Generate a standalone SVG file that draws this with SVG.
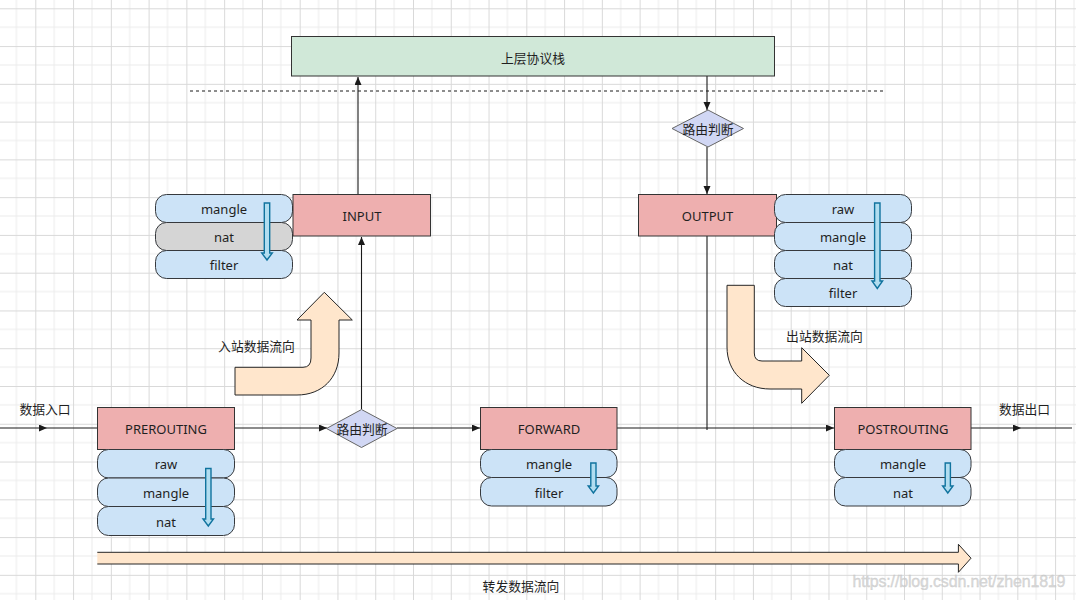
<svg xmlns="http://www.w3.org/2000/svg" width="1076" height="600" viewBox="0 0 1076 600">
<defs>
<pattern id="grid" patternUnits="userSpaceOnUse" x="35.3" y="8.3" width="37.77" height="37.77">
<path d="M18.885 0V37.77M0 18.885H37.77" stroke="#ececec" stroke-width="1" fill="none"/>
<path d="M0.5 0V37.77M0 0.5H37.77" stroke="#d9d9d9" stroke-width="1" fill="none"/>
</pattern>
<marker id="ah" markerUnits="userSpaceOnUse" markerWidth="9" markerHeight="8" refX="8" refY="3.5" orient="auto">
<path d="M0 0L8 3.5L0 7Z" fill="#1a1a1a"/>
</marker>
<style>
text{font-family:"Noto Sans","Noto Sans CJK SC",sans-serif;font-size:13px;fill:#1f1f1f;text-anchor:middle;dominant-baseline:central}
.cjk{font-family:"Noto Sans CJK SC","Noto Sans",sans-serif;font-size:12.8px}
.hook{fill:#eeafaf;stroke:#333;stroke-width:1}
.row{fill:#cce3f7;stroke:#36393d;stroke-width:1}
.rowg{fill:#d5d5d5;stroke:#36393d;stroke-width:1}
.dia{fill:#d1d7f4;stroke:#666;stroke-width:1}
.flow{fill:#ffe6cc;stroke:#262626;stroke-width:1}
.bar{fill:#b1ddf0;stroke:#10739e;stroke-width:1.4}
.conn{stroke:#1a1a1a;stroke-width:1.1;fill:none}
</style>
</defs>
<rect width="1076" height="600" fill="#fff"/>
<rect width="1076" height="600" fill="url(#grid)"/>

<g id="connectors">
<path class="conn" d="M0 428H47" marker-end="url(#ah)"/>
<path class="conn" d="M47 428H97"/>
<path class="conn" d="M234 428H327" marker-end="url(#ah)"/>
<path class="conn" d="M361.5 409V237" marker-end="url(#ah)"/>
<path class="conn" d="M358 194V77" marker-end="url(#ah)"/>
<path class="conn" d="M707 76V110" marker-end="url(#ah)"/>
<path class="conn" d="M707 147V194" marker-end="url(#ah)"/>
<path class="conn" d="M707 236V430"/>
<path class="conn" d="M397 428H480" marker-end="url(#ah)"/>
<path class="conn" d="M617 428H834" marker-end="url(#ah)"/>
<path class="conn" d="M971 428H1021" marker-end="url(#ah)"/>
<path class="conn" d="M1021 428H1072"/>
<path d="M190 91H885" stroke="#1a1a1a" stroke-width="1" stroke-dasharray="3 3" fill="none"/>
</g>

<g id="stack">
<rect x="291.5" y="36.5" width="483" height="39.5" fill="#d0e8d8" stroke="#333" stroke-width="1"/>
<text class="cjk" x="533" y="57">上层协议栈</text>
</g>

<g id="route-top">
<path class="dia" d="M708 110L743.5 128.5L708 147L672 128.5Z"/>
<text class="cjk" x="708" y="128.5">路由判断</text>
</g>

<g id="route-mid">
<path class="dia" d="M361.5 409.5L397 428.5L361.5 447.5L326.5 428.5Z"/>
<text class="cjk" x="362" y="428.5">路由判断</text>
</g>

<g id="input-table">
<rect class="row" x="155.5" y="194.5" width="137" height="28" rx="11"/>
<rect class="rowg" x="155.5" y="222.5" width="137" height="28" rx="11"/>
<rect class="row" x="155.5" y="250.5" width="137" height="28" rx="11"/>
<text x="224" y="209">mangle</text>
<text x="224" y="237">nat</text>
<text x="224" y="265">filter</text>
<path class="bar" d="M264.3 203H269.7V253H272.3L267 260L261.7 253H264.3Z"/>
</g>

<g id="input">
<rect class="hook" x="293" y="194.5" width="137.5" height="41.5"/>
<text x="362" y="215.5">INPUT</text>
</g>

<g id="output">
<rect class="hook" x="638.5" y="194.5" width="138" height="41.5"/>
<text x="707.5" y="215.5">OUTPUT</text>
</g>

<g id="output-table">
<rect class="row" x="774.5" y="194.5" width="137" height="28" rx="11"/>
<rect class="row" x="774.5" y="222.5" width="137" height="28" rx="11"/>
<rect class="row" x="774.5" y="250.5" width="137" height="28" rx="11"/>
<rect class="row" x="774.5" y="278.5" width="137" height="28" rx="11"/>
<text x="843" y="209">raw</text>
<text x="843" y="237">mangle</text>
<text x="843" y="265">nat</text>
<text x="843" y="293">filter</text>
<path class="bar" d="M874.6 203H880V281H882.6L877.3 288.5L872 281H874.6Z"/>
</g>

<g id="inbound-flow">
<path class="flow" d="M235 367.3H303Q311 367.3 311 358V320H297L324.3 292.3L352.3 320H339V353C339 378 322 395 297 395H235Z"/>
<text class="cjk" x="256.5" y="345">入站数据流向</text>
</g>

<g id="outbound-flow">
<path class="flow" d="M727 285.3H754.3V353Q754.3 361 762 361H801.7V347.7L829.3 375.3L801.7 403.3V389H770C745 389 727 372 727 347Z"/>
<text class="cjk" x="824.5" y="335.5">出站数据流向</text>
</g>

<g id="prerouting">
<rect class="hook" x="97.5" y="407.5" width="137" height="42"/>
<text x="166" y="428.5">PREROUTING</text>
<rect class="row" x="97.5" y="449.5" width="137" height="28.5" rx="11"/>
<rect class="row" x="97.5" y="478" width="137" height="28.5" rx="11"/>
<rect class="row" x="97.5" y="506.5" width="137" height="29" rx="11"/>
<text x="166" y="464">raw</text>
<text x="166" y="492.5">mangle</text>
<text x="166" y="521.5">nat</text>
<path class="bar" d="M205.7 468.5H211V519H213.5L208.3 526L203 519H205.7Z"/>
</g>

<g id="forward">
<rect class="hook" x="480.5" y="407.5" width="136.5" height="42"/>
<text x="549" y="428.5">FORWARD</text>
<rect class="row" x="480.5" y="449.5" width="136.5" height="28" rx="11"/>
<rect class="row" x="480.5" y="477.5" width="136.5" height="28.5" rx="11"/>
<text x="549" y="464">mangle</text>
<text x="549" y="492.5">filter</text>
<path class="bar" d="M590.8 463H596V486H598.6L593.4 493L588.2 486H590.8Z"/>
</g>

<g id="postrouting">
<rect class="hook" x="834.5" y="407.5" width="136.5" height="42"/>
<text x="903" y="428.5">POSTROUTING</text>
<rect class="row" x="834.5" y="449.5" width="136.5" height="28" rx="11"/>
<rect class="row" x="834.5" y="477.5" width="136.5" height="28.5" rx="11"/>
<text x="903" y="464">mangle</text>
<text x="903" y="492.5">nat</text>
<path class="bar" d="M945.2 463H950.4V486H953L947.8 493L942.6 486H945.2Z"/>
</g>

<g id="forward-flow">
<path d="M97.3 552.3H958.4V544.3L971 558.2L958.4 572.3V564H97.3Z" fill="#ffe6cc"/>
<path d="M97.3 552.3H958.4V544.3L971 558.2L958.4 572.3V564H97.3" fill="none" stroke="#262626" stroke-width="1"/>
<text class="cjk" x="521" y="585">转发数据流向</text>
</g>

<g id="labels">
<text class="cjk" x="45" y="408">数据入口</text>
<text class="cjk" x="1024.5" y="408">数据出口</text>
</g>

<text x="959" y="581" style="font-family:'Liberation Sans',sans-serif;font-size:16px;fill:#d4d4d4;stroke:#bdbdbd;stroke-width:0.3;opacity:0.85" textLength="213">https://blog.csdn.net/zhen1819</text>
</svg>
